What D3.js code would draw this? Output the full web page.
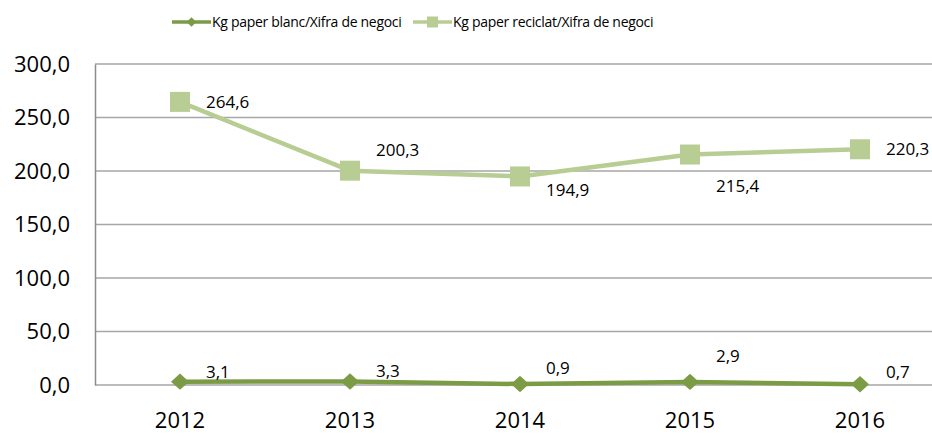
<!DOCTYPE html>
<html>
<head>
<meta charset="utf-8">
<script src="https://cdn.jsdelivr.net/npm/d3@7"></script>
<style>
  body { margin: 0; background: #fff; }
  svg { display: block; font-family: "Open Sans", sans-serif; }
</style>
</head>
<body>
<div id="chart"></div>
<script>
const years = ["2012", "2013", "2014", "2015", "2016"];
const blanc = [3.1, 3.3, 0.9, 2.9, 0.7];
const reciclat = [264.6, 200.3, 194.9, 215.4, 220.3];
const yTicks = [0, 50, 100, 150, 200, 250, 300];
const seriesNames = ["Kg paper blanc/Xifra de negoci", "Kg paper reciclat/Xifra de negoci"];

// label offsets (dy from point), as placed in the original
const blancLabelDy = [-10, -10, -16, -26, -12];
const reciclatLabelDy = [0, -21, 14, 32, 0];

const width = 932;
const height = 436;
const margin = { top: 64, right: -13, bottom: 51, left: 95 };

const fmt = v => v.toFixed(1).replace(".", ",");

const svg = d3.select("#chart")
    .append("svg")
    .attr("width", width)
    .attr("height", height);

const x = d3.scaleBand()
    .domain(years)
    .range([margin.left, width - margin.right]);

const y = d3.scaleLinear()
    .domain([0, 300])
    .range([height - margin.bottom, margin.top]);

// gridlines
svg.append("g")
    .selectAll("line")
    .data(yTicks)
    .enter()
    .append("line")
    .attr("x1", margin.left)
    .attr("x2", width - margin.right)
    .attr("y1", d => y(d))
    .attr("y2", d => y(d))
    .attr("stroke", "#a6a6a6")
    .attr("stroke-width", 1.3);

// y axis
const yAxis = svg.append("g")
    .attr("transform", "translate(" + margin.left + ",0)")
    .call(d3.axisLeft(y).tickValues(yTicks).tickFormat(fmt).tickSize(0).tickPadding(25));
yAxis.select(".domain").attr("stroke", "#8c8c8c").attr("stroke-width", 1.5);
yAxis.selectAll("text").attr("font-size", 22).attr("fill", "#000").attr("font-family", "'Open Sans', sans-serif");

// x axis
const xAxis = svg.append("g")
    .attr("transform", "translate(0," + y(0) + ")")
    .call(d3.axisBottom(x).tickSize(0).tickPadding(27));
xAxis.select(".domain").remove();
xAxis.selectAll("text").attr("font-size", 22).attr("fill", "#000").attr("font-family", "'Open Sans', sans-serif");

const cx = d => x(d) + x.bandwidth() / 2;

const line = d3.line()
    .x((d, i) => cx(years[i]))
    .y(d => y(d));

const colBlanc = "#7b9b45";
const colRec = "#b8cd93";

// reciclat series
svg.append("path")
    .datum(reciclat)
    .attr("d", line)
    .attr("fill", "none")
    .attr("stroke", colRec)
    .attr("stroke-width", 4.5)
    .attr("stroke-linejoin", "round");

svg.append("g")
    .selectAll("rect")
    .data(reciclat)
    .enter()
    .append("rect")
    .attr("x", (d, i) => cx(years[i]) - 10)
    .attr("y", d => y(d) - 10)
    .attr("width", 20)
    .attr("height", 20)
    .attr("fill", colRec);

// blanc series
svg.append("path")
    .datum(blanc)
    .attr("d", line)
    .attr("fill", "none")
    .attr("stroke", colBlanc)
    .attr("stroke-width", 4.5)
    .attr("stroke-linejoin", "round");

svg.append("g")
    .selectAll("path")
    .data(blanc)
    .enter()
    .append("path")
    .attr("d", d3.symbol().type(d3.symbolDiamond2).size(170))
    .attr("transform", (d, i) => "translate(" + cx(years[i]) + "," + y(d) + ") scale(1.1,1)")
    .attr("fill", colBlanc);

// data labels
const labels = svg.append("g")
    .attr("font-size", 17)
    .attr("fill", "#000");

labels.selectAll(".lr")
    .data(reciclat)
    .enter()
    .append("text")
    .attr("x", (d, i) => cx(years[i]) + 26)
    .attr("y", (d, i) => y(d) + reciclatLabelDy[i])
    .attr("dy", "0.35em")
    .text(fmt);

labels.selectAll(".lb")
    .data(blanc)
    .enter()
    .append("text")
    .attr("x", (d, i) => cx(years[i]) + 26)
    .attr("y", (d, i) => y(d) + blancLabelDy[i])
    .attr("dy", "0.35em")
    .text(fmt);

// legend
const legend = svg.append("g").attr("font-size", 14).attr("fill", "#000").attr("letter-spacing", -0.3);
const legendX = [172, 413];
const legendCol = [colBlanc, colRec];

legendX.forEach((lx, i) => {
    legend.append("line")
        .attr("x1", lx).attr("x2", lx + 39)
        .attr("y1", 22).attr("y2", 22)
        .attr("stroke", legendCol[i])
        .attr("stroke-width", 3.5);
    if (i === 0) {
        legend.append("path")
            .attr("d", d3.symbol().type(d3.symbolDiamond2).size(60))
            .attr("transform", "translate(" + (lx + 19.5) + ",22)")
            .attr("fill", legendCol[i]);
    } else {
        legend.append("rect")
            .attr("x", lx + 14).attr("y", 16.5)
            .attr("width", 11).attr("height", 11)
            .attr("fill", legendCol[i]);
    }
    legend.append("text")
        .attr("x", lx + 40)
        .attr("y", 22)
        .attr("dy", "0.35em")
        .text(seriesNames[i]);
});
</script>
</body>
</html>
